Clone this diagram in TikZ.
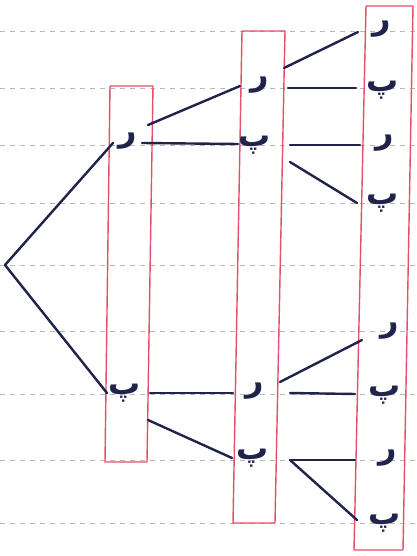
\documentclass[tikz,border=0pt]{standalone}
\usepackage{fontspec}
\newfontfamily\arabicfont[Script=Arabic]{DejaVu Sans}
\TeXXeTstate=1
\usetikzlibrary{calc}
\definecolor{ink}{HTML}{20234A}
\definecolor{boxred}{HTML}{E2506A}
\definecolor{ruleclr}{HTML}{B8B8B8}
\tikzset{
  lbl/.style={inner sep=0pt, text=ink, font=\arabicfont\bfseries\fontsize{32}{32}\selectfont},
  branch/.style={draw=ink, line width=2.4pt, line cap=round},
  redbox/.style={draw=boxred, line width=1.4pt, line join=round},
  ruleline/.style={draw=ruleclr, line width=0.9pt, dash pattern=on 5pt off 5pt},
}
\newcommand{\lr}{\beginR ر\endR}
\newcommand{\lp}{\beginR پ\endR}
\begin{document}
\begin{tikzpicture}[x=1pt,y=-1pt]
\useasboundingbox[fill=white] (0,0) rectangle (416,556);
% ruled paper
\foreach \yy in {31,88,145,203,265,331,394,460,523}
  \draw[ruleline] (0,\yy) -- (416,\yy);
% red boxes
\draw[redbox] (110,86) -- (153,86) -- (147,462) -- (105,462) -- cycle;
\draw[redbox] (242,31) -- (285,31) -- (275,523) -- (233,523) -- cycle;
\draw[redbox] (366,6) -- (413,6) -- (403,550) -- (354,550) -- cycle;
% root
\coordinate (root) at (5,265);
% level 1
\node[lbl] (r1) at (128,141) {\lr};
\node[lbl] (p1) at (125,393) {\lp};
% level 2
\node[lbl] (r2a) at (260,85) {\lr};
\node[lbl] (p2a) at (255,145) {\lp};
\node[lbl] (r2b) at (255,391) {\lr};
\node[lbl] (p2b) at (253,458) {\lp};
% level 3
\node[lbl] (r3a) at (382,29) {\lr};
\node[lbl] (p3a) at (383,90) {\lp};
\node[lbl] (r3b) at (385,143) {\lr};
\node[lbl] (p3b) at (383,203) {\lp};
\node[lbl] (r3c) at (390,331) {\lr};
\node[lbl] (p3c) at (385,395) {\lp};
\node[lbl] (r3d) at (388,458) {\lr};
\node[lbl] (p3d) at (385,523) {\lp};
% branches
\draw[branch] (root) -- ($(r1)+(-15,2)$);
\draw[branch] (root) -- ($(p1)+(-18,0)$);
\draw[branch] ($(r1)+(20,-16)$) -- ($(r2a)+(-20,1)$);
\draw[branch] ($(r1)+(14,2)$) -- ($(p2a)+(-17,-1)$);
\draw[branch] ($(p1)+(25,0)$) -- ($(r2b)+(-22,2)$);
\draw[branch] ($(p1)+(23,27)$) -- ($(p2b)+(-21,0)$);
\draw[branch] ($(r2a)+(24,-17)$) -- ($(r3a)+(-24,3)$);
\draw[branch] ($(r2a)+(28,3)$) -- ($(p3a)+(-27,-2)$);
\draw[branch] ($(p2a)+(35,0)$) -- ($(r3b)+(-25,2)$);
\draw[branch] ($(p2a)+(35,17)$) -- ($(p3b)+(-26,0)$);
\draw[branch] ($(r2b)+(25,-9)$) -- ($(r3c)+(-28,9)$);
\draw[branch] ($(r2b)+(35,2)$) -- ($(p3c)+(-30,-1)$);
\draw[branch] ($(p2b)+(37,2)$) -- ($(r3d)+(-33,2)$);
\draw[branch] ($(p2b)+(37,2)$) -- ($(p3d)+(-28,-3)$);
\end{tikzpicture}
\end{document}
